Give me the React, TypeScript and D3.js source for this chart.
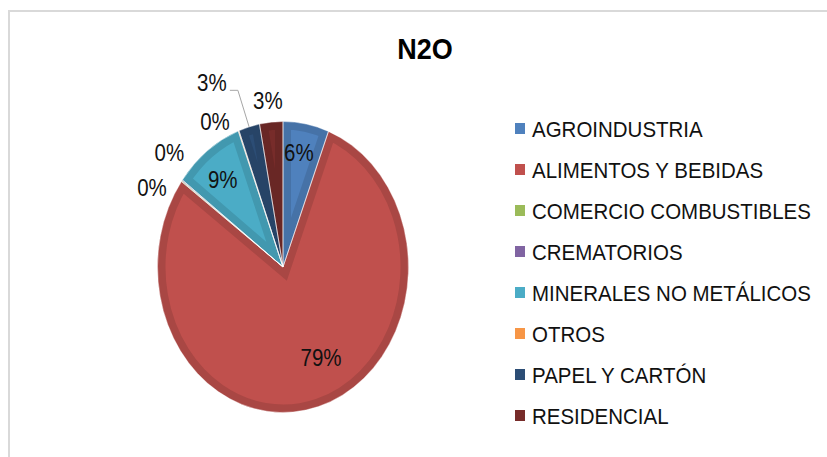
import React from "react";
import * as d3 from "d3";

const title = "N2O";
const categories = [
  "AGROINDUSTRIA",
  "ALIMENTOS Y BEBIDAS",
  "COMERCIO COMBUSTIBLES",
  "CREMATORIOS",
  "MINERALES NO METÁLICOS",
  "OTROS",
  "PAPEL Y CARTÓN",
  "RESIDENCIAL",
];
const values = [5.9, 79.1, 0.1, 0.1, 9.0, 0.1, 2.7, 3.0];
const colors = ["#4F81BD", "#C0504D", "#9BBB59", "#8064A2", "#4BACC6", "#F79646", "#2C4D75", "#772C2A"];

// label layout (radius factor relative to pie, angular shift in degrees)
const labelRadius = [0.8, 0.69, 1.18, 1.2, 0.77, 1.14, 1.39, 1.15];
const labelShift = [-1.5, -9.7, -8.4, 4.5, -1.5, -7.7, -8.4, -0.6];
const leaderFor = [false, false, false, false, false, false, true, false];

const W = 827;
const H = 457;
const cx = 283;
const cy = 267;
const rx = 125.5;
const ry = 145.5;
const FONT = "'Liberation Sans', Arial, sans-serif";

export default function App() {
  const pie = d3.pie<number>().sort(null).value((d) => d)(values);
  const arc = d3.arc<d3.PieArcDatum<number>>().innerRadius(0).outerRadius(rx);
  const sy = ry / rx;

  const polar = (theta: number, r: number) => [cx + r * rx * Math.sin(theta), cy - r * ry * Math.cos(theta)];

  const legendX = 515;
  const legendY0 = 128.5;
  const legendStep = 41;

  return (
    <svg width={W} height={H} style={{ position: "absolute", left: 0, top: 0, background: "#fff" }}>
      <rect x={9} y={11} width={W + 50} height={H + 50} fill="#fff" stroke="#d9d9d9" strokeWidth={2} />
      <text
        transform={`translate(425,59) scale(1,1.08)`}
        textAnchor="middle"
        fontFamily={FONT}
        fontWeight="bold"
        fontSize={27}
        fill="#000"
      >
        {title}
      </text>
      <defs>
        {pie.map((d, i) => (
          <clipPath id={`slice-${i}`} key={i}>
            <path d={arc(d) || ""} />
          </clipPath>
        ))}
      </defs>
      <g transform={`translate(${cx},${cy}) scale(1,${sy})`}>
        {pie.map((d, i) => (
          <path
            key={i}
            d={arc(d) || ""}
            fill={colors[i]}
            stroke={d3.color(colors[i])!.darker(0.35).formatHex()}
            strokeWidth={16}
            vectorEffect="non-scaling-stroke"
            clipPath={`url(#slice-${i})`}
          />
        ))}
        {pie.map((d, i) => (
          <path
            key={"w" + i}
            d={arc(d) || ""}
            fill="none"
            stroke="#fff"
            strokeWidth={0.5}
            vectorEffect="non-scaling-stroke"
          />
        ))}
      </g>
      {pie.map((d, i) => {
        const mid = (d.startAngle + d.endAngle) / 2;
        const theta = mid + (labelShift[i] * Math.PI) / 180;
        const [lx, ly] = polar(theta, labelRadius[i]);
        const txt = `${Math.round(values[i])}%`;
        let leader = null;
        if (leaderFor[i]) {
          const [ex, ey] = polar(mid, 1.0);
          const right = lx + 18;
          leader = (
            <polyline
              points={`${right},${ly + 8} ${right + 8},${ly + 8} ${ex},${ey}`}
              fill="none"
              stroke="#a6a6a6"
              strokeWidth={1}
            />
          );
        }
        return (
          <g key={"l" + i}>
            {leader}
            <text
              transform={`translate(${lx},${ly}) scale(1,1.17)`}
              textAnchor="middle"
              dy="0.36em"
              fontFamily={FONT}
              fontSize={20.5}
              fill="#111"
            >
              {txt}
            </text>
          </g>
        );
      })}
      {categories.map((c, i) => {
        const y = legendY0 + i * legendStep;
        return (
          <g key={"lg" + i}>
            <rect x={legendX} y={y - 5.5} width={10} height={11} fill={colors[i]} />
            <text
              transform={`translate(${legendX + 17},${y}) scale(1,1.12)`}
              dy="0.36em"
              fontFamily={FONT}
              fontSize={20.5}
              fill="#111"
            >
              {c}
            </text>
          </g>
        );
      })}
    </svg>
  );
}
